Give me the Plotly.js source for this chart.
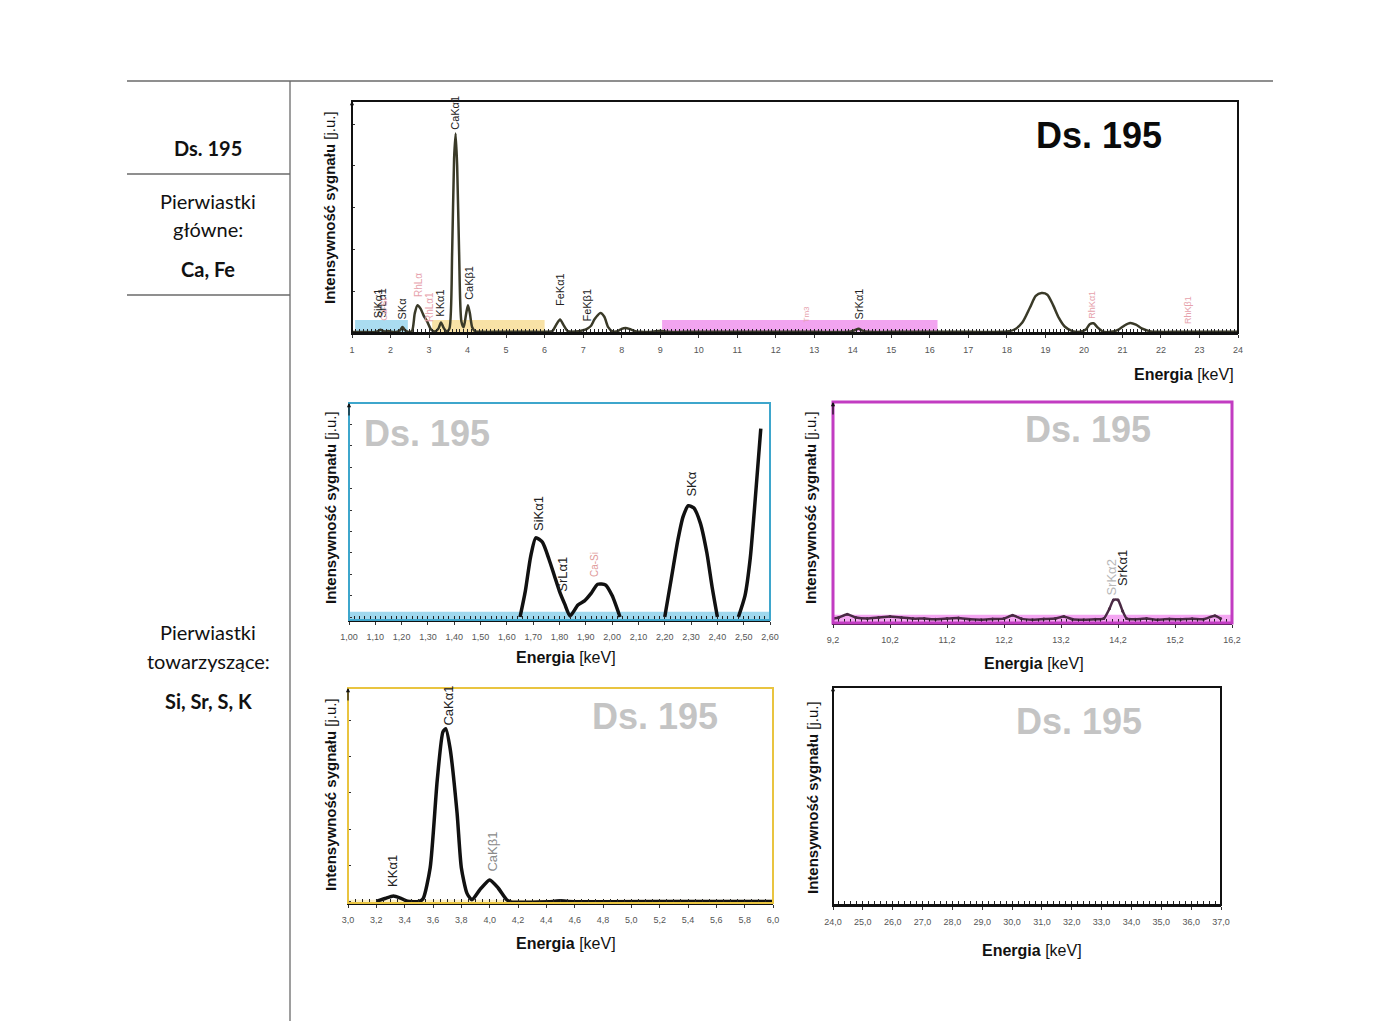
<!DOCTYPE html>
<html>
<head>
<meta charset="utf-8">
<script src="https://cdn.plot.ly/plotly-3.0.1.min.js"></script>
<style>html,body{margin:0;padding:0;background:#fff;}#chart{width:1400px;height:1021px;}</style>
</head>
<body>
<div id="chart"></div>
<script>
// ---------- DATA ----------
// Main spectrum (1-24 keV)
const mainE = [1.0,1.3,1.6,1.68,1.74,1.8,1.88,1.95,2.02,2.15,2.25,2.31,2.37,2.47,2.56,2.63,2.7,2.78,2.86,2.95,3.05,3.15,3.24,3.31,3.38,3.46,3.53,3.6,3.65,3.69,3.73,3.78,3.84,3.9,3.96,4.01,4.06,4.12,4.2,4.4,4.8,5.2,5.6,6.0,6.2,6.3,6.4,6.5,6.6,6.8,7.0,7.1,7.2,7.3,7.45,7.55,7.65,7.75,7.9,8.0,8.1,8.2,8.35,8.5,8.8,9.0,9.2,9.6,10.0,11.0,12.0,13.0,13.9,14.05,14.15,14.25,14.4,15.0,16.0,17.0,18.0,18.2,18.4,18.6,18.75,18.9,19.05,19.2,19.35,19.5,19.7,19.9,20.05,20.15,20.25,20.35,20.5,20.7,20.9,21.05,21.2,21.35,21.5,21.7,21.9,22.5,23.0,24.0];
const mainI = [0.4,0.4,0.4,0.8,1.4,0.9,0.6,0.9,0.5,0.4,1.2,2.6,1.3,0.4,1.0,8.5,12.0,10.5,7.5,5.0,1.6,0.6,1.8,4.5,2.2,0.6,2.0,35,75,86,72,35,5,2.5,8,12,8.5,2.5,0.7,0.5,0.5,0.5,0.5,0.5,0.8,3.5,5.8,3.2,0.8,0.6,1.2,1.8,3.0,6.0,8.6,7.0,2.5,0.8,0.8,1.8,2.2,1.8,0.8,0.5,0.5,1.0,0.5,0.5,0.5,0.5,0.5,0.5,0.5,1.2,1.8,1.0,0.5,0.5,0.5,0.5,0.6,1.5,4.5,11,16,17.2,16.5,12,6.5,2.8,0.8,0.5,1.5,3.8,4.2,2.5,0.6,0.5,1.5,3.2,4.3,3.6,2.0,0.8,0.5,0.5,0.5,0.5];
const mainTicks = [1,2,3,4,5,6,7,8,9,10,11,12,13,14,15,16,17,18,19,20,21,22,23,24];

// Si / S region (1.00-2.60 keV)
const siE = [1.65,1.67,1.69,1.71,1.735,1.76,1.78,1.80,1.82,1.84,1.87,1.895,1.92,1.945,1.975,2.00,2.03,null,2.20,2.225,2.25,2.27,2.29,2.31,2.335,2.36,2.38,2.40,null,2.48,2.505,2.525,2.54,2.565];
const siI = [0,12,28,37,35,27,19.5,12,6,0.5,5.6,7.5,11,15.3,15,10,0,null,0,18,36,47,52,51,44,30,14,0,null,0,10,27.6,49,88];

// Sr region (9.2-16.2 keV)
const srE = [9.2,9.3,9.45,9.6,9.8,10.0,10.2,10.4,10.6,10.8,11.0,11.2,11.4,11.6,11.8,12.0,12.2,12.35,12.5,12.7,12.9,13.1,13.25,13.4,13.6,13.8,13.95,14.05,14.12,14.2,14.28,14.35,14.5,14.7,14.9,15.1,15.3,15.5,15.7,15.9,16.0];
const srI = [1.5,2,3.5,2,1.5,2,2.5,2,1.5,1.5,1.2,1.5,1.8,1.2,1,1.3,1.5,3,1.5,1,1.3,1.5,2.5,1.2,1,1.2,1.5,6,10,10,5,1.5,1.2,1.5,1,1.3,1.2,1.4,1.2,2.8,1.5];

// K / Ca region (3.0-6.0 keV)
const caE = [3.2,3.26,3.32,3.37,3.42,3.5,3.53,3.58,3.63,3.67,3.69,3.72,3.77,3.80,3.84,3.875,3.93,4.0,4.06,4.12,4.15,4.45,4.5,4.55,5.4,6.0];
const caI = [0.3,1.6,2.8,1.8,0.3,0.2,1.5,16,57,79.5,81,72,41.5,16,4,1,5.6,10.3,6.5,1,0,0.2,0.6,0.2,0.2,0.2];

// High energy region (24-37 keV): flat baseline only
const hiE = [24,37];
const hiI = [0,0];

// ---------- helpers ----------
const W = 1400, H = 1021;
const PX = x => x / W;
const PY = y => 1 - y / H;
const FONT = 'Liberation Sans, Arial, sans-serif';
const LFONT = 'Lato, Carlito, sans-serif';
const DARK = '#222';
const PINK = '#e6a2ac';
const GRAYLBL = '#b8b8b8';

function xaxisCfg(domain, anchor, range, dtick, tick0, fmt, minor) {
  return {
    domain: domain, anchor: anchor, range: range,
    showline: true, linecolor: '#111', linewidth: 2,
    ticks: 'outside', ticklen: 3, tickcolor: '#333', tickwidth: 1,
    tickmode: 'linear', dtick: dtick, tick0: tick0, tickformat: fmt,
    tickfont: {family: FONT, size: 9, color: '#555'},
    ticklabelstandoff: 4,
    minor: {ticks: 'inside', dtick: minor, ticklen: 4, tickcolor: '#222', tickwidth: 1, showgrid: false},
    showgrid: false, zeroline: false, fixedrange: true
  };
}
function yaxisCfg(domain, anchor, range, dtick) {
  const c = {
    domain: domain, anchor: anchor, range: range,
    showline: true, linecolor: '#111', linewidth: 1.5,
    showticklabels: false, showgrid: false, zeroline: false, fixedrange: true
  };
  if (dtick) { c.ticks = 'inside'; c.ticklen = 3; c.tickcolor = '#333'; c.tickmode = 'linear'; c.tick0 = 0; c.dtick = dtick; }
  else { c.ticks = ''; }
  return c;
}

const traces = [
  {x: mainE, y: mainI, xaxis: 'x', yaxis: 'y', mode: 'lines', line: {color: '#3a3a28', width: 2.5, shape: 'spline', smoothing: 0.7}, hoverinfo: 'skip'},
  {x: siE, y: siI, xaxis: 'x2', yaxis: 'y2', mode: 'lines', line: {color: '#111', width: 3.5, shape: 'spline', smoothing: 0.6}, connectgaps: false, hoverinfo: 'skip'},
  {x: srE, y: srI, xaxis: 'x3', yaxis: 'y3', mode: 'lines+markers', marker: {size: 3, color: '#4a2a44'}, line: {color: '#4a2a44', width: 2.5, shape: 'spline', smoothing: 0.5}, hoverinfo: 'skip'},
  {x: caE, y: caI, xaxis: 'x4', yaxis: 'y4', mode: 'lines', line: {color: '#111', width: 3.5, shape: 'spline', smoothing: 0.6}, hoverinfo: 'skip'},
  {x: hiE, y: hiI, xaxis: 'x5', yaxis: 'y5', mode: 'lines', line: {color: '#111', width: 2}, hoverinfo: 'skip'}
];

const dMain = {x: [PX(352), PX(1238)], y: [PY(333), PY(101)]};
const dSi   = {x: [PX(349), PX(770)],  y: [PY(620), PY(403)]};
const dSr   = {x: [PX(833), PX(1232)], y: [PY(623), PY(402)]};
const dCa   = {x: [PX(348), PX(773)],  y: [PY(903), PY(688)]};
const dHi   = {x: [PX(833), PX(1221)], y: [PY(905), PY(687)]};

const shapes = [];
// table lines
const lineStyle = {color: '#6a6a6a', width: 1.3};
shapes.push({type: 'line', xref: 'paper', yref: 'paper', x0: PX(127), x1: PX(1273), y0: PY(81), y1: PY(81), line: lineStyle});
shapes.push({type: 'line', xref: 'paper', yref: 'paper', x0: PX(290), x1: PX(290), y0: PY(81), y1: 0, line: lineStyle});
shapes.push({type: 'line', xref: 'paper', yref: 'paper', x0: PX(127), x1: PX(290), y0: PY(174), y1: PY(174), line: lineStyle});
shapes.push({type: 'line', xref: 'paper', yref: 'paper', x0: PX(127), x1: PX(290), y0: PY(295), y1: PY(295), line: lineStyle});

// highlighted energy bands in main chart
shapes.push({type: 'rect', xref: 'x', yref: 'y', x0: 1.08, x1: 2.45, y0: 0, y1: 5.6, fillcolor: '#aadcf0', line: {width: 0}, layer: 'below'});
shapes.push({type: 'rect', xref: 'x', yref: 'y', x0: 3.08, x1: 6.0, y0: 0, y1: 5.6, fillcolor: '#f8e2a6', line: {width: 0}, layer: 'below'});
shapes.push({type: 'rect', xref: 'x', yref: 'y', x0: 9.05, x1: 16.2, y0: 0.6, y1: 5.6, fillcolor: '#f2a4f0', line: {width: 0}, layer: 'below'});
// bands in zoom panels
shapes.push({type: 'rect', xref: 'x2 domain', yref: 'y2', x0: 0, x1: 1, y0: -1.4, y1: 2.5, fillcolor: '#9fd8ee', line: {width: 0}, layer: 'below'});
shapes.push({type: 'rect', xref: 'x3 domain', yref: 'y3', x0: 0, x1: 1, y0: -0.5, y1: 3.2, fillcolor: '#f4a6f2', line: {width: 0}, layer: 'below'});
shapes.push({type: 'rect', xref: 'x4 domain', yref: 'y4', x0: 0, x1: 1, y0: -0.5, y1: 1.0, fillcolor: '#fbf0c8', line: {width: 0}, layer: 'below'});

// frames
function frame(xr, yr, color, w) {
  shapes.push({type: 'rect', xref: xr + ' domain', yref: yr + ' domain', x0: 0, x1: 1, y0: 0, y1: 1, fillcolor: 'rgba(0,0,0,0)', line: {color: color, width: w}});
}
frame('x', 'y', '#111', 2);
frame('x2', 'y2', '#3ea6cc', 2);
frame('x3', 'y3', '#c23cc2', 3);
frame('x4', 'y4', '#e9c440', 2);
frame('x5', 'y5', '#111', 2);

// ---------- annotations ----------
const ann = [];
function ptext(text, x, y, size, opts) {
  ann.push(Object.assign({text: text, xref: 'paper', yref: 'paper', x: PX(x), y: PY(y), xanchor: 'center', yanchor: 'middle', showarrow: false,
    font: {family: FONT, size: size, color: '#111'}}, opts || {}));
}
// left column
ptext('<b>Ds. 195</b>', 208, 148, 20, {font: {family: LFONT, size: 20, color: '#111'}});
ptext('Pierwiastki', 208, 201, 20, {font: {family: LFONT, size: 20, color: '#111'}});
ptext('główne:', 208, 229, 20, {font: {family: LFONT, size: 20, color: '#111'}});
ptext('<b>Ca, Fe</b>', 208, 269, 20, {font: {family: LFONT, size: 20, color: '#111'}});
ptext('Pierwiastki', 208, 632, 20, {font: {family: LFONT, size: 20, color: '#111'}});
ptext('towarzyszące:', 208, 661, 20, {font: {family: LFONT, size: 20, color: '#111'}});
ptext('<b>Si, Sr, S, K</b>', 208, 701, 20, {font: {family: LFONT, size: 20, color: '#111'}});

// sample titles
ptext('<b>Ds. 195</b>', 1099, 135, 36, {font: {family: FONT, size: 36, color: '#0a0a0a'}});
ptext('<b>Ds. 195</b>', 427, 434, 36, {font: {family: FONT, size: 36, color: '#c4c4c4'}});
ptext('<b>Ds. 195</b>', 1088, 429, 36, {font: {family: FONT, size: 36, color: '#c4c4c4'}});
ptext('<b>Ds. 195</b>', 655, 716, 36, {font: {family: FONT, size: 36, color: '#c4c4c4'}});
ptext('<b>Ds. 195</b>', 1079, 721, 36, {font: {family: FONT, size: 36, color: '#c4c4c4'}});

// axis titles
const yTitle = '<b>Intensywność sygnału</b> [j.u.]';
const xTitle = '<b>Energia</b> [keV]';
ptext(yTitle, 329, 208, 15, {textangle: -90});
ptext(yTitle, 330, 508, 15, {textangle: -90});
ptext(yTitle, 810, 508, 15, {textangle: -90});
ptext(yTitle, 330, 795, 15, {textangle: -90});
ptext(yTitle, 812, 798, 15, {textangle: -90});
ptext(xTitle, 1184, 374, 16);
ptext(xTitle, 566, 657, 16);
ptext(xTitle, 1034, 663, 16);
ptext(xTitle, 566, 943, 16);
ptext(xTitle, 1032, 950, 16);

// y-axis arrows
['', '2', '3', '4', '5'].forEach(s => {
  ann.push({xref: 'x' + s + ' domain', yref: 'y' + s + ' domain', x: 0, y: 1.0, ax: 0, ay: 14, axref: 'pixel', ayref: 'pixel',
    showarrow: true, arrowhead: 2, arrowsize: 0.7, arrowwidth: 1.2, arrowcolor: '#111', text: ''});
});

// peak labels
function plabel(xr, yr, text, e, y, size, color) {
  ann.push({text: text, xref: xr, yref: yr, x: e, y: y, textangle: -90, xanchor: 'center', yanchor: 'bottom', showarrow: false,
    font: {family: FONT, size: size, color: color}, borderpad: 0});
}
// main chart
plabel('x', 'y', 'SiKα1', 1.68, 6, 11, DARK);
plabel('x', 'y', 'SrLα1', 1.77, 6, 11, DARK);
plabel('x', 'y', 'Ca-Si', 1.83, 5, 9, PINK);
plabel('x', 'y', 'SKα', 2.31, 5.6, 11, DARK);
plabel('x', 'y', 'RhLα', 2.71, 15, 10, PINK);
plabel('x', 'y', 'RhLα1', 3.0, 4.3, 10, PINK);
plabel('x', 'y', 'KKα1', 3.29, 6.5, 11, DARK);
plabel('x', 'y', 'CaKα1', 3.69, 87, 11, DARK);
plabel('x', 'y', 'CaKβ1', 4.02, 14, 11, DARK);
plabel('x', 'y', 'FeKα1', 6.4, 11, 11, DARK);
plabel('x', 'y', 'FeKβ1', 7.1, 4.7, 11, DARK);
plabel('x', 'y', 'Tm3', 12.81, 4.3, 8, PINK);
plabel('x', 'y', 'SrKα1', 14.16, 5.6, 11, DARK);
plabel('x', 'y', 'RhKα1', 20.2, 5.6, 9, PINK);
plabel('x', 'y', 'RhKβ1', 22.7, 3.4, 9, PINK);
// Si panel
plabel('x2', 'y2', 'SiKα1', 1.72, 39.7, 13, DARK);
plabel('x2', 'y2', 'SrLα1', 1.81, 11.2, 13, DARK);
plabel('x2', 'y2', 'Ca-Si', 1.935, 18, 10, '#e09a9a');
plabel('x2', 'y2', 'SKα', 2.30, 55.6, 13, DARK);
// Sr panel
plabel('x3', 'y3', 'SrKα2', 14.09, 11.4, 13, GRAYLBL);
plabel('x3', 'y3', 'SrKα1', 14.29, 15.9, 13, DARK);
// Ca panel
plabel('x4', 'y4', 'KKα1', 3.31, 6.5, 13, DARK);
plabel('x4', 'y4', 'CaKα1', 3.71, 81.8, 13, DARK);
plabel('x4', 'y4', 'CaKβ1', 4.02, 13.5, 13, '#8a8a8a');

const layout = {
  width: W, height: H,
  margin: {l: 0, r: 0, t: 0, b: 0},
  paper_bgcolor: '#fff', plot_bgcolor: 'rgba(0,0,0,0)',
  showlegend: false,
  separators: ',.',
  xaxis:  Object.assign(xaxisCfg(dMain.x, 'y', [1, 24], 1, 1, 'd', 0.1), {tickvals: mainTicks, tickmode: 'array'}),
  yaxis:  yaxisCfg(dMain.y, 'x', [0, 100], 18),
  xaxis2: xaxisCfg(dSi.x, 'y2', [1.0, 2.6], 0.1, 1.0, '.2f', 0.02),
  yaxis2: yaxisCfg(dSi.y, 'x2', [-1.4, 100], 10),
  xaxis3: xaxisCfg(dSr.x, 'y3', [9.2, 16.2], 1, 9.2, '.1f', 0.1),
  yaxis3: yaxisCfg(dSr.y, 'x3', [-0.5, 100], 0),
  xaxis4: xaxisCfg(dCa.x, 'y4', [3.0, 6.0], 0.2, 3.0, '.1f', 0.05),
  yaxis4: yaxisCfg(dCa.y, 'x4', [-0.5, 100], 17),
  xaxis5: xaxisCfg(dHi.x, 'y5', [24, 37], 1, 24, '.1f', 0.2),
  yaxis5: yaxisCfg(dHi.y, 'x5', [0, 100], 0),
  shapes: shapes,
  annotations: ann
};
layout.xaxis.minor = {ticks: 'inside', dtick: 0.1, tick0: 1, ticklen: 4, tickcolor: '#222', tickwidth: 1, showgrid: false};

Plotly.newPlot('chart', traces, layout, {staticPlot: true, displayModeBar: false});
</script>
</body>
</html>
